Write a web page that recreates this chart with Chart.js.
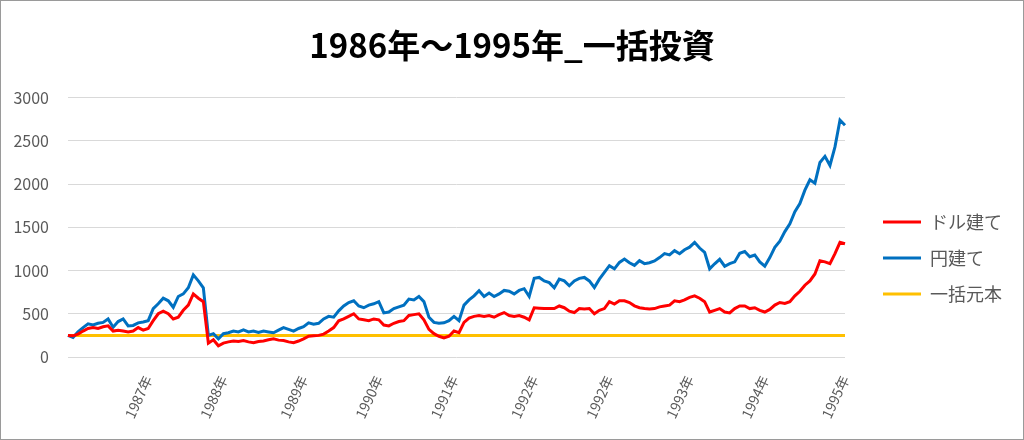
<!DOCTYPE html>
<html>
<head>
<meta charset="utf-8">
<script src="https://cdn.jsdelivr.net/npm/chart.js@4.4.1/dist/chart.umd.min.js"></script>
<style>
  html, body { margin: 0; padding: 0; background: #fff; }
  #wrap { width: 1024px; height: 440px; box-sizing: border-box; border: 1px solid #9a9a9a; position: relative; }
  canvas { display: block; }
</style>
</head>
<body>
<div id="wrap"><canvas id="chart" width="1022" height="438"></canvas></div>
<script>
// 円建て (blue), one value every ~5px
const yenValues = [
  250, 225, 290, 340, 383, 370, 390, 400, 440, 345, 410, 440, 360, 365, 395, 405,
  420, 560, 615, 680, 650, 575, 700, 730, 800, 950, 880, 800, 250, 270, 210, 270,
  280, 300, 290, 313, 290, 300, 285, 300, 290, 280, 310, 340, 320, 300, 330, 350,
  395, 380, 390, 440, 470, 460, 534, 590, 630, 650, 590, 570, 600, 615, 640, 510,
  520, 560, 580, 600, 670, 660, 700, 640, 460, 400, 390, 395, 420, 470, 420, 600,
  660, 708, 766, 700, 740, 700, 730, 770, 760, 730, 770, 790, 700, 910, 920, 880,
  860, 800, 900, 880, 824, 880, 910, 920, 880, 804, 900, 978, 1056, 1020, 1094, 1133,
  1090, 1060, 1114, 1080, 1090, 1110, 1150, 1195, 1180, 1230, 1195, 1240, 1270, 1326, 1260, 1210,
  1020, 1078, 1130, 1050, 1080, 1100, 1200, 1220, 1160, 1180, 1100, 1050, 1150, 1268, 1340, 1450,
  1540, 1680, 1774, 1930, 2050, 2010, 2250, 2320, 2215, 2430, 2740, 2680
];

// ドル建て (red)
const usdValues = [
  250, 245, 265, 300, 330, 340, 330, 350, 360, 300, 310, 300, 290, 300, 340, 310,
  330, 420, 500, 530, 500, 440, 460, 540, 600, 730, 680, 640, 160, 200, 130, 160,
  175, 185, 180, 190, 175, 165, 180, 185, 200, 210, 195, 190, 175, 165, 185, 210,
  240, 245, 250, 265, 300, 340, 418, 440, 470, 500, 440, 430, 420, 440, 430, 370,
  360, 390, 410, 420, 480, 490, 500, 430, 320, 270, 240, 220, 240, 300, 282, 400,
  450, 470, 480, 470, 480, 460, 490, 514, 480, 470, 480, 460, 430, 570, 565, 560,
  560, 560, 590, 570, 530, 514, 560, 556, 560, 500, 540, 560, 640, 612, 650, 650,
  630, 592, 570, 560, 555, 560, 580, 590, 600, 650, 640, 660, 690, 708, 680, 640,
  520, 540, 560, 520, 510, 560, 590, 590, 560, 570, 540, 520, 550, 600, 630, 620,
  640, 708, 760, 830, 880, 960, 1114, 1100, 1080, 1195, 1326, 1310
];

// 一括元本 (lump-sum principal)
const principal = 250;

const yearTicks = ['1987年', '1988年', '1989年', '1990年', '1991年', '1992年', '1992年', '1993年', '1994年', '1995年'];
const yearTickIdx = [16, 31, 47, 62, 77, 93, 108, 124, 139, 155];

const yTicks = [0, 500, 1000, 1500, 2000, 2500, 3000];

const labels = yenValues.map((v, i) => {
  const k = yearTickIdx.indexOf(i);
  return k >= 0 ? yearTicks[k] : '';
});
const principalValues = yenValues.map(() => principal);

const FONT = "'Noto Sans CJK JP', 'Noto Sans', sans-serif";

// push the legend away from the plot and a bit lower, like the Excel original
const legendPlace = {
  id: 'legendPlace',
  beforeLayout(chart) {
    const lg = chart.legend;
    if (lg && !lg._patched) {
      const fit = lg.fit;
      lg.fit = function () { fit.call(this); this.width = 178; };
      lg._patched = true;
    }
  },
  afterLayout(chart) {
    const lg = chart.legend;
    lg.left += 20;
    lg.top += 38;
    lg.bottom += 38;
  }
};

const ctx = document.getElementById('chart').getContext('2d');
const chart = new Chart(ctx, {
  type: 'line',
  data: {
    labels: labels,
    datasets: [
      { label: 'ドル建て', data: usdValues, borderColor: '#FF0000', backgroundColor: '#FF0000', borderWidth: 3, pointRadius: 0, tension: 0 },
      { label: '円建て', data: yenValues, borderColor: '#0070C0', backgroundColor: '#0070C0', borderWidth: 3, pointRadius: 0, tension: 0 },
      { label: '一括元本', data: principalValues, borderColor: '#FFC000', backgroundColor: '#FFC000', borderWidth: 3, pointRadius: 0, tension: 0 }
    ]
  },
  options: {
    responsive: false,
    animation: false,
    layout: { padding: 0 },
    plugins: {
      title: {
        display: true,
        text: '1986年～1995年_一括投資',
        color: '#000',
        font: { family: FONT, size: 33, weight: 'bold' },
        padding: { top: 25, bottom: 32 }
      },
      legend: {
        position: 'right',
        labels: {
          color: '#595959',
          font: { family: FONT, size: 18 },
          boxWidth: 38,
          boxHeight: 3,
          padding: 18,
          generateLabels: (c) => Chart.defaults.plugins.legend.labels.generateLabels(c)
            .map(item => Object.assign(item, { lineWidth: 0 }))
        }
      },
      tooltip: { enabled: false }
    },
    scales: {
      x: {
        grid: { display: false },
        border: { display: false },
        ticks: {
          autoSkip: false,
          minRotation: 65,
          maxRotation: 65,
          padding: 8,
          color: '#595959',
          font: { family: FONT, size: 14 }
        },
        afterFit: (s) => { s.height = 82; }
      },
      y: {
        min: 0,
        max: 3000,
        afterBuildTicks: (s) => { s.ticks = yTicks.map(v => ({ value: v })); },
        grid: { color: '#d9d9d9', lineWidth: 1, drawTicks: false },
        border: { display: false },
        ticks: {
          padding: 19,
          color: '#595959',
          font: { family: FONT, size: 16 },
          callback: (v) => String(v)
        },
        afterFit: (s) => { s.width = 67; }
      }
    }
  },
  plugins: [legendPlace]
});
</script>
</body>
</html>
